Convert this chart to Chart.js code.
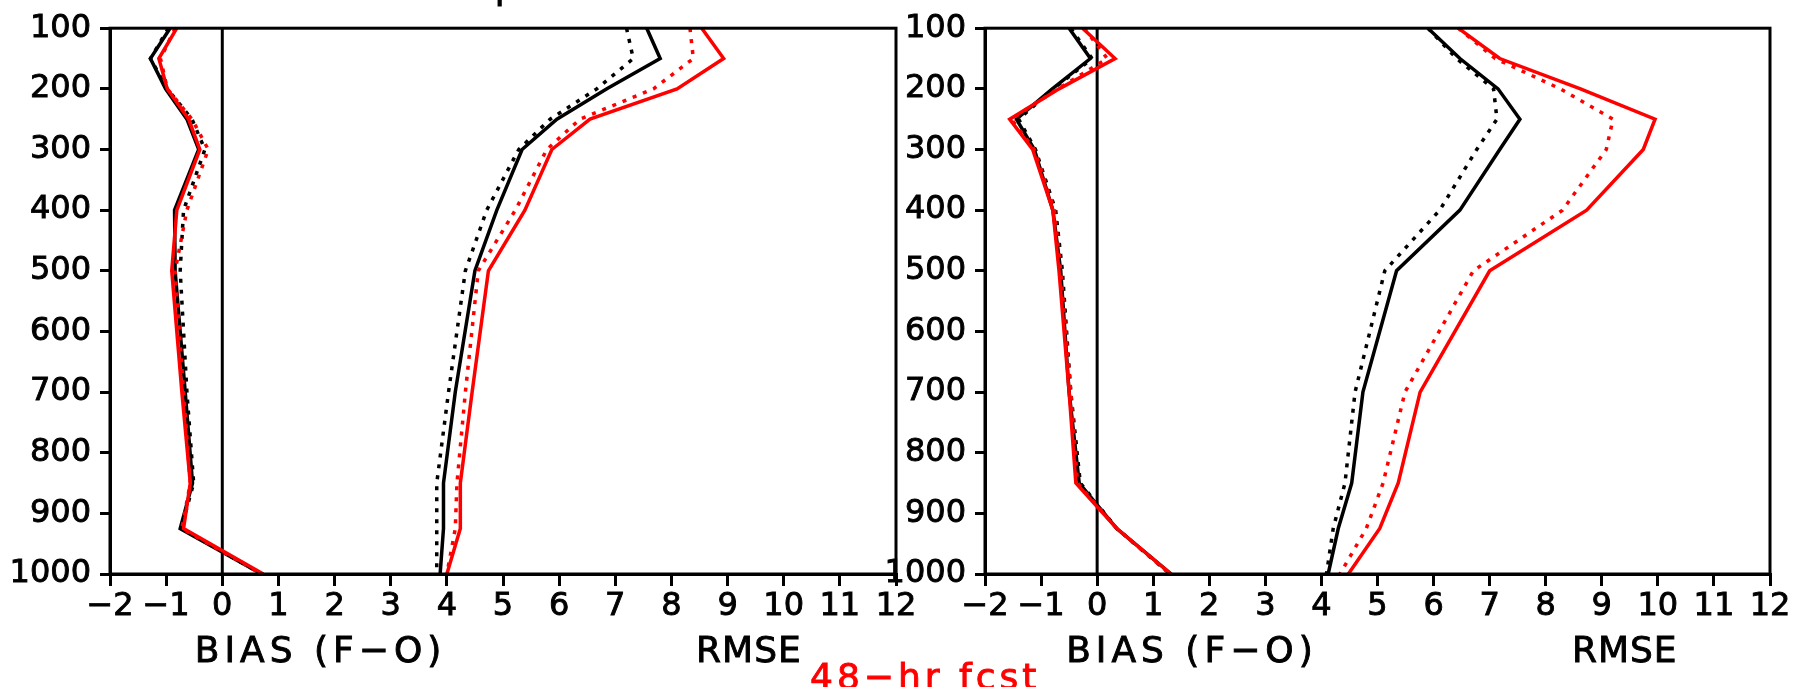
<!DOCTYPE html>
<html><head><meta charset="utf-8">
<script src="https://cdn.jsdelivr.net/npm/chart.js@4.4.1/dist/chart.umd.min.js"></script>
<style>
html,body{margin:0;padding:0;background:#fff;width:1797px;height:687px;overflow:hidden}
canvas{position:absolute;left:0;top:0}
</style></head><body>
<canvas id="c1" width="1797" height="687"></canvas>
<canvas id="c2" width="1797" height="687"></canvas>
<script>
// pressure levels (hPa)
const levels = [100,150,200,250,300,400,500,700,850,925,1000];
const xTicks = [-2,-1,0,1,2,3,4,5,6,7,8,9,10,11,12];
const yTicks = [100,200,300,400,500,600,700,800,900,1000];

// Left panel
const L_biasBlack    = [-0.93,-1.28,-1.01,-0.63,-0.42,-0.85,-0.84,-0.66,-0.53,-0.75,0.70];
const L_biasBlackDot = [-0.96,-1.28,-0.98,-0.54,-0.31,-0.69,-0.75,-0.63,-0.51,-0.73,0.70];
const L_biasRed      = [-0.81,-1.13,-0.98,-0.60,-0.40,-0.81,-0.90,-0.72,-0.57,-0.69,0.73];
const L_biasRedDot   = [-0.84,-1.10,-0.98,-0.54,-0.25,-0.63,-0.84,-0.69,-0.57,-0.72,0.70];
const L_rmseBlack    = [7.56,7.80,6.85,5.96,5.34,4.89,4.50,4.15,3.94,3.94,3.88];
const L_rmseBlackDot = [7.20,7.32,6.67,5.84,5.28,4.71,4.33,4.03,3.82,3.82,3.82];
const L_rmseRed      = [8.54,8.93,8.10,6.55,5.87,5.39,4.74,4.45,4.24,4.24,4.00];
const L_rmseRedDot   = [8.33,8.39,7.68,6.37,5.78,5.22,4.56,4.33,4.18,4.15,4.00];

// Right panel
const R_biasBlack    = [-0.50,-0.12,-0.80,-1.44,-1.12,-0.79,-0.65,-0.50,-0.32,0.35,1.32];
const R_biasBlackDot = [-0.47,-0.09,-0.78,-1.40,-1.10,-0.74,-0.62,-0.47,-0.30,0.35,1.30];
const R_biasRed      = [-0.26,0.32,-0.68,-1.56,-1.15,-0.79,-0.68,-0.50,-0.38,0.35,1.32];
const R_biasRedDot   = [-0.23,0.18,-0.70,-1.53,-1.12,-0.76,-0.65,-0.47,-0.35,0.35,1.30];
const R_rmseBlack    = [5.90,6.47,7.15,7.54,7.18,6.47,5.34,4.74,4.54,4.30,4.12];
const R_rmseBlackDot = [5.90,6.41,7.07,7.13,6.77,6.11,5.13,4.60,4.42,4.21,4.09];
const R_rmseRed      = [6.44,7.18,8.62,9.95,9.74,8.73,7.00,5.76,5.37,5.04,4.48];
const R_rmseRedDot   = [6.44,7.10,8.26,9.20,9.08,8.30,6.71,5.49,5.10,4.80,4.33];

const FONT = "'DejaVu Sans', 'Liberation Sans', sans-serif";

function pts(vals){ return vals.map((v,i)=>({x:v, y:levels[i]})); }
function ds(vals, color, dotted){
  return {data: pts(vals), borderColor: color, backgroundColor: color, borderWidth: 3.5,
    pointRadius: 0, pointHoverRadius: 0, showLine: true, tension: 0, fill: false,
    borderDash: dotted ? [4,7] : [], borderCapStyle: 'butt', borderJoinStyle: 'miter', clip: false};
}
function minus(v){ return v < 0 ? '\u2212' + Math.abs(v) : String(v); }

function txt(ctx, s, x, y){ ctx.fillText(s, x, y); ctx.strokeText(s, x, y); }

function deco(opts){
  return {
    id: 'deco',
    beforeDatasetsDraw(chart){
      const {ctx, chartArea: a, scales: {x}} = chart;
      const x0 = x.getPixelForValue(0);
      ctx.save();
      ctx.strokeStyle = '#000'; ctx.lineWidth = 3;
      ctx.beginPath(); ctx.moveTo(x0, a.top); ctx.lineTo(x0, a.bottom); ctx.stroke();
      ctx.restore();
    },
    afterDraw(chart){
      const {ctx, chartArea: a, scales: {x}} = chart;
      ctx.save();
      ctx.strokeStyle = '#000'; ctx.lineWidth = 3;
      ctx.strokeRect(a.left, a.top, a.right - a.left, a.bottom - a.top);
      ctx.fillStyle = '#000';
      ctx.lineWidth = 0.9;
      ctx.textBaseline = 'alphabetic';
      ctx.textAlign = 'center';
      ctx.font = "36px " + FONT;
      ctx.letterSpacing = '5px';
      txt(ctx, 'BIAS (F\u2212O)', x.getPixelForValue(opts.biasAt), 662);
      ctx.letterSpacing = '1px';
      txt(ctx, 'RMSE', x.getPixelForValue(opts.rmseAt), 662);
      // title (mostly above the visible area)
      ctx.letterSpacing = '6px';
      txt(ctx, opts.title, opts.titleX, -1);
      if (opts.fcst) {
        ctx.fillStyle = '#ff0000';
        ctx.strokeStyle = '#ff0000';
        ctx.textAlign = 'left';
        ctx.letterSpacing = '4px';
        txt(ctx, opts.fcst, 810, 689);
      }
      ctx.restore();
    }
  };
}

function makeChart(id, padLeft, padRight, sets, opts){
  const gridCfg = (len) => ({display: true, drawOnChartArea: false, drawTicks: true,
      tickLength: len, tickWidth: 3, tickColor: '#000', color: '#000', lineWidth: 3});
  const tickFont = {family: FONT, size: 32};
  return new Chart(document.getElementById(id), {
    type: 'scatter',
    data: {datasets: sets},
    options: {
      responsive: false, animation: false, devicePixelRatio: 1,
      events: [],
      layout: {padding: {left: padLeft, right: padRight, top: 25, bottom: 0}},
      plugins: {legend: {display: false}, tooltip: {enabled: false}, title: {display: false}},
      scales: {
        x: {type: 'linear', min: -2, max: 12,
            afterBuildTicks: s => { s.ticks = xTicks.map(v => ({value: v})); },
            afterFit: s => { s.height = 113; },
            grid: gridCfg(12), border: {display: true, color: '#000', width: 3},
            ticks: {color: '#000', padding: 1, autoSkip: false, maxRotation: 0,
                    textStrokeColor: '#000', textStrokeWidth: 0.9,
                    font: tickFont, callback: v => minus(v)}},
        y: {type: 'linear', reverse: true, min: 100, max: 1000,
            afterBuildTicks: s => { s.ticks = yTicks.map(v => ({value: v})); },
            afterFit: s => { s.width = 110; },
            grid: gridCfg(10), border: {display: true, color: '#000', width: 3},
            ticks: {color: '#000', padding: 9, autoSkip: false,
                    textStrokeColor: '#000', textStrokeWidth: 0.9,
                    font: tickFont, callback: v => String(v)}}
      }
    },
    plugins: [deco(opts)]
  });
}

makeChart('c1', 0, 901, [
  ds(L_biasRed, '#ff0000', false), ds(L_biasRedDot, '#ff0000', true),
  ds(L_rmseRed, '#ff0000', false), ds(L_rmseRedDot, '#ff0000', true),
  ds(L_biasBlack, '#000', false), ds(L_biasBlackDot, '#000', true),
  ds(L_rmseBlack, '#000', false), ds(L_rmseBlackDot, '#000', true)
], {biasAt: 1.75, rmseAt: 9.38, title: 'Tropics', titleX: 507, fcst: '48\u2212hr fcst'});

makeChart('c2', 875, 27, [
  ds(R_biasRed, '#ff0000', false), ds(R_biasRedDot, '#ff0000', true),
  ds(R_rmseRed, '#ff0000', false), ds(R_rmseRedDot, '#ff0000', true),
  ds(R_biasBlack, '#000', false), ds(R_biasBlackDot, '#000', true),
  ds(R_rmseBlack, '#000', false), ds(R_rmseBlackDot, '#000', true)
], {biasAt: 1.69, rmseAt: 9.41, title: 'NH 20N\u221280N Winds', titleX: 1358, fcst: null});
</script>
</body></html>
